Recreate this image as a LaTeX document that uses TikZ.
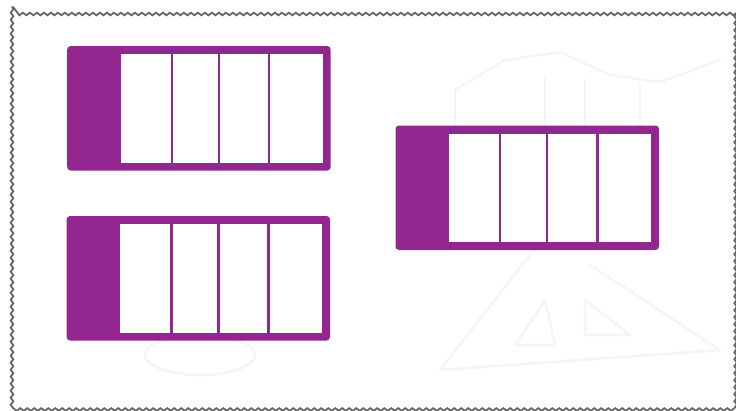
\documentclass[tikz,border=0pt]{standalone}
\usetikzlibrary{decorations.pathmorphing}
\definecolor{barpurple}{HTML}{92278F}
\definecolor{framegray}{HTML}{666666}
\definecolor{sketch}{HTML}{F3F6F6}
\tikzset{
  framestyle/.style={draw=framegray, line width=1.8pt, decorate,
    decoration={snake, segment length=7pt, amplitude=1.3pt}},
  sketchline/.style={draw=sketch, line width=2.5pt, line cap=round, line join=round},
  divider/.style={draw=barpurple, line width=2.6pt},
  cellbar/.pic={
    \fill[barpurple, rounded corners=3.5pt] (0,0) rectangle (263.5,124.5);
    \fill[white] (53.5,8) rectangle (255.5,116.5);
    \draw[divider] (104.6,8) -- (104.6,116.5);
    \draw[divider] (151.6,8) -- (151.6,116.5);
    \draw[divider] (201.8,8) -- (201.8,116.5);
  }
}
\begin{document}
\begin{tikzpicture}[x=1pt,y=-1pt]
\useasboundingbox (0,0) rectangle (736,410);
\fill[white] (0,0) rectangle (736,410);
% faint background sketch
\draw[sketchline] (455,90) -- (505,60) -- (560,52) -- (610,75) -- (660,82) -- (720,60);
\draw[sketchline] (455,90) -- (455,125);
\draw[sketchline] (640,85) -- (640,125);
\draw[sketchline] (545,75) -- (545,125);
\draw[sketchline] (585,80) -- (585,125);
\draw[sketchline] (530,255) -- (440,370) -- (720,350) -- (590,265);
\draw[sketchline] (545,300) -- (515,345) -- (555,345) -- cycle;
\draw[sketchline] (585,300) -- (585,335) -- (630,335) -- cycle;
\draw[sketchline] (200,355) ellipse (55 and 20);
% frame
\draw[framestyle] (12,7) rectangle (733,405);
% bars
\pic (barA) at (67.2,46) {cellbar};
\pic (barB) at (66.6,216) {cellbar};
\pic (barC) at (395.5,125.5) {cellbar};
\end{tikzpicture}
\end{document}
